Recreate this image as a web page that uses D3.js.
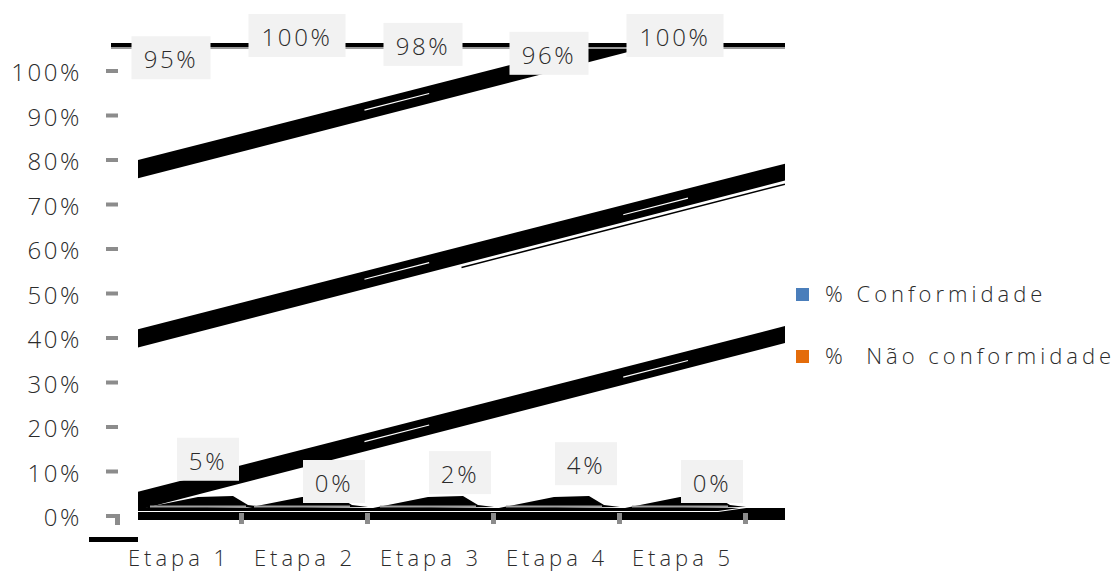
<!DOCTYPE html>
<html><head><meta charset="utf-8">
<script src="https://cdn.jsdelivr.net/npm/d3@7"></script>
<style>
body{margin:0;background:#fff;}
text{font-family:"Open Sans","Noto Sans",sans-serif;fill:#2b2b2b;}
</style></head>
<body><svg id="c" width="1115" height="571"></svg>
<script>
const categories = ["Etapa 1","Etapa 2","Etapa 3","Etapa 4","Etapa 5"];
const conformidade = [95,100,98,96,100];
const naoConformidade = [5,0,2,4,0];
const yTicks = [0,10,20,30,40,50,60,70,80,90,100];
const seriesNames = ["% Conformidade","%  Não conformidade"];
const seriesColors = ["#4a7ebb","#e46c0a"];
// skewed back-wall gridline bands: value at left edge of the wall
const wallBandStarts = [3.5, 40, 78];
const wallRise = 37.5;

const svg = d3.select("#c");
const y = d3.scaleLinear().domain([0,100]).range([517,72]);
const x = d3.scaleBand().domain(categories).range([116,746]);
const wallX = d3.scaleLinear().domain([0,1]).range([138,785]);

svg.append("defs").append("clipPath").attr("id","wall")
  .append("rect").attr("x",138).attr("y",47).attr("width",647).attr("height",463);

const wall = svg.append("g").attr("clip-path","url(#wall)");
wallBandStarts.forEach(v=>{
  const t=1.9;
  const pts=[[wallX(0),y(v+t+0.3)],[wallX(1),y(v+wallRise+t)],[wallX(1),y(v+wallRise-t)],[wallX(0),y(v-t)]];
  wall.append("path").attr("d",d3.line()(pts)+"Z").attr("fill","#000");
  wall.append("path").attr("d",d3.line()([[wallX(0.35),y(v+0.3+wallRise*0.35)],[wallX(0.45),y(v+0.3+wallRise*0.45)]]))
    .attr("stroke","#fff").attr("stroke-width",1.2);
  wall.append("path").attr("d",d3.line()([[wallX(0.75),y(v-0.2+wallRise*0.75)],[wallX(0.85),y(v-0.2+wallRise*0.85)]]))
    .attr("stroke","#fff").attr("stroke-width",1.2);
});
wall.append("path").attr("d",d3.line()([[wallX(0.5),y(40+wallRise*0.5-2.7)],[wallX(1),y(40+wallRise-2.7)]]))
  .attr("stroke","#000").attr("stroke-width",1.5);

// top back edge line
svg.append("rect").attr("x",111).attr("y",43).attr("width",674).attr("height",4).attr("fill","#000");
svg.append("rect").attr("x",111).attr("y",47).attr("width",674).attr("height",2).attr("fill","#9a9a9a");

// floor
categories.forEach((c,i)=>{
  const x0=x(c)+ (i===0?22:0);
  svg.append("path").attr("d",d3.line()([[x0,509],[x0+60,497],[x0+95,496],[x0+110,505],[x0+126,507]])+"Z").attr("fill","#000");
  svg.append("rect").attr("x",x0+12).attr("y",505.5).attr("width",96).attr("height",2).attr("fill","#a0a0a0");
});
svg.append("rect").attr("x",138).attr("y",508).attr("width",647).attr("height",12).attr("fill","#000");
svg.append("path").attr("d",d3.line()([[138,511.5],[718,511.5],[785,502]])).attr("stroke","#fff").attr("stroke-width",1).attr("fill","none");
svg.append("rect").attr("x",89).attr("y",537).attr("width",49).attr("height",5).attr("fill","#000");

// y axis labels & ticks
svg.selectAll(".yl").data(yTicks).join("text")
  .attr("x",82).attr("y",d=>y(d)+9).attr("text-anchor","end")
  .attr("font-size",24).attr("letter-spacing",2.6).attr("font-weight",300).text(d=>d+"%");
svg.selectAll(".yt").data(yTicks).join("rect")
  .attr("x",106).attr("y",d=>y(d)-3).attr("width",12).attr("height",4).attr("fill","#8c8c8c");
svg.append("rect").attr("x",115).attr("y",y(0)-3).attr("width",5).attr("height",11).attr("fill","#8c8c8c");

// x ticks and labels
categories.forEach(c=>{
  svg.append("rect").attr("x",x(c)+x.bandwidth()-3).attr("y",513).attr("width",5).attr("height",11).attr("fill","#8c8c8c");
});
svg.selectAll(".xl").data(categories).join("text")
  .attr("x",d=>x(d)+x.bandwidth()/2).attr("y",566).attr("text-anchor","middle")
  .attr("font-size",22).attr("letter-spacing",4).attr("font-weight",300).text(d=>d);

// data labels
function labels(vals, dx, dy){
  vals.forEach((v,i)=>{
    const s=v+"%";
    const w = s.length===2?62:(s.length===3?79:97);
    const cx = x(categories[i])+x.bandwidth()/2+dx;
    const top = y(v)+dy;
    svg.append("rect").attr("x",cx-w/2).attr("y",top).attr("width",w).attr("height",43).attr("fill","#f2f2f2");
    svg.append("text").attr("x",cx).attr("y",top+32).attr("text-anchor","middle")
      .attr("font-size",24).attr("letter-spacing",2.6).attr("font-weight",300).text(s);
  });
}
labels(conformidade,-8,-58);
labels(naoConformidade,29,-57);

// legend
const lg = svg.append("g");
seriesNames.forEach((n,i)=>{
  lg.append("rect").attr("x",796).attr("y",288+i*62).attr("width",13).attr("height",13).attr("fill",seriesColors[i]);
  lg.append("text").attr("x",825).attr("y",302+i*62).attr("font-size",22).attr("letter-spacing",4)
    .attr("font-weight",300).style("white-space","pre").text(n);
});
</script></body></html>
